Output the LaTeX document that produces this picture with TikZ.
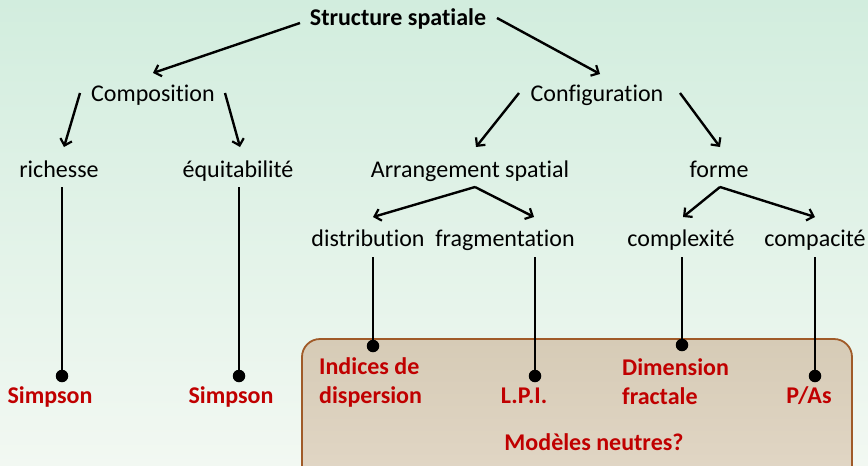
\documentclass[tikz,border=0pt]{standalone}
\usepackage{fontspec}
\setmainfont{Carlito}[Ligatures=NoCommon]
\usetikzlibrary{arrows.meta}
\definecolor{bgtop}{RGB}{210,237,222}
\definecolor{bgbot}{RGB}{242,248,242}
\definecolor{lab}{RGB}{192,0,0}
\definecolor{boxtop}{RGB}{214,203,182}
\definecolor{boxbot}{RGB}{226,215,198}
\definecolor{boxline}{RGB}{160,90,40}
\tikzset{
  lbl/.style={inner sep=0pt, text height=17pt, text depth=5pt, font=\fontsize{24}{28}\selectfont},
  res/.style={inner sep=0pt, font=\fontsize{24}{29}\selectfont\bfseries, text=lab, align=left},
  resone/.style={res, text height=17pt, text depth=5pt},
  arr/.style={line width=2.4pt, -{Straight Barb[length=6pt,width=12pt,line width=2.2pt]}},
  stem/.style={line width=2.4pt},
  dotc/.style={circle, fill=black, inner sep=0pt, minimum size=12.5pt}
}
\begin{document}
\begin{tikzpicture}[x=1pt,y=-1pt]
\shade[top color=bgtop, bottom color=bgbot] (0,0) rectangle (868,466);
\useasboundingbox (0,0) rectangle (868,466);
\shade[top color=boxtop, bottom color=boxbot, rounded corners=18pt] (302,339) rectangle (852,485);
\draw[boxline, line width=1.8pt, rounded corners=18pt] (302,339) rectangle (852,485);
% text nodes
\node[lbl, font=\fontsize{24}{28}\selectfont\bfseries] (ss) at (398,19) {Structure spatiale};
\node[lbl] (comp) at (153,95) {Composition};
\node[lbl] (conf) at (597,95) {Configuration};
\node[lbl] (rich) at (59,171) {richesse};
\node[lbl] (equi) at (238,171) {équitabilité};
\node[lbl] (arr) at (470,171) {Arrangement spatial};
\node[lbl] (forme) at (719,171) {forme};
\node[lbl] (dist) at (368,240) {distribution};
\node[lbl] (frag) at (505,240) {fragmentation};
\node[lbl] (cplx) at (681,240) {complexité};
\node[lbl] (cpct) at (815,240) {compacité};
% arrow endpoints
\coordinate (a1s) at (300,23); \coordinate (a1e) at (153,73);
\coordinate (a2s) at (497,18); \coordinate (a2e) at (600,74);
\coordinate (a3s) at (80,93); \coordinate (a3e) at (64,147);
\coordinate (a4s) at (225,93); \coordinate (a4e) at (240,147);
\coordinate (a5s) at (519,93); \coordinate (a5e) at (476,147);
\coordinate (a6s) at (680,93); \coordinate (a6e) at (720,147);
\coordinate (v1) at (475,187); \coordinate (v1a) at (373,217); \coordinate (v1b) at (534,217);
\coordinate (v2) at (720,187); \coordinate (v2a) at (683,217); \coordinate (v2b) at (815,217);
\draw[arr] (a1s) -- (a1e);
\draw[arr] (a2s) -- (a2e);
\draw[arr] (a3s) -- (a3e);
\draw[arr] (a4s) -- (a4e);
\draw[arr] (a5s) -- (a5e);
\draw[arr] (a6s) -- (a6e);
\draw[arr] (v1) -- (v1a);
\draw[arr] (v1) -- (v1b);
\draw[arr] (v2) -- (v2a);
\draw[arr] (v2) -- (v2b);
% stems and dots
\node[dotc] (d1) at (62,376) {};
\node[dotc] (d2) at (239,376) {};
\node[dotc] (d3) at (373,346) {};
\node[dotc] (d4) at (535,376) {};
\node[dotc] (d5) at (682,345) {};
\node[dotc] (d6) at (815,376) {};
\coordinate (t1) at (62,187);
\coordinate (t2) at (239,187);
\coordinate (t3) at (373,257);
\coordinate (t4) at (535,257);
\coordinate (t5) at (682,257);
\coordinate (t6) at (815,257);
\draw[stem] (t1) -- (d1.center);
\draw[stem] (t2) -- (d2.center);
\draw[stem] (t3) -- (d3.center);
\draw[stem] (t4) -- (d4.center);
\draw[stem] (t5) -- (d5.center);
\draw[stem] (t6) -- (d6.center);
% results
\node[resone] (s1) at (50,397) {Simpson};
\node[resone] (s2) at (231,397) {Simpson};
\node[res, anchor=west] (idx) at (319,382) {Indices de\\dispersion};
\node[resone] (lpi) at (524,397) {L.P.I.};
\node[res, anchor=west] (dim) at (622,382) {Dimension\\fractale};
\node[resone] (pas) at (809,397) {P/As};
\node[resone] (mod) at (594,444) {Modèles neutres?};
\end{tikzpicture}
\end{document}
